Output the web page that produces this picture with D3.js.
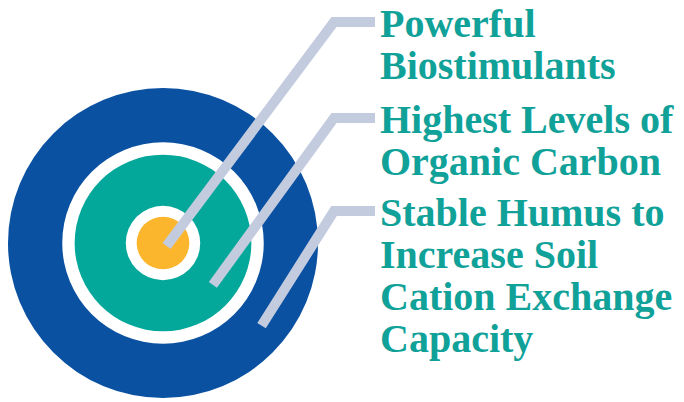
<!DOCTYPE html>
<html>
<head>
<meta charset="utf-8">
<script src="https://cdn.jsdelivr.net/npm/d3@7"></script>
<style>
  html, body { margin: 0; padding: 0; background: #ffffff; overflow: hidden; }
  svg { display: block; }
</style>
</head>
<body>
<script>
//Layer names, from the core outwards.
var layers = ["core", "middle", "outer"];

//Label lines for each layer.
var labelLines = [
  ["Powerful", "Biostimulants"],
  ["Highest Levels of", "Organic Carbon"],
  ["Stable Humus to", "Increase Soil", "Cation Exchange", "Capacity"]
];

//Ring bands as percent of the full radius [inner, outer].
var ringBands = [[0, 17], [24, 57], [65, 100]];

//Where each pointer tip sits, percent of the full radius.
var pointerDepth = [3, 42, 83];

//Ring colours.
var ringColors = ["#fbb62d", "#04a89b", "#0a51a2"];

//Main drawing function.
function mainFunction() {

  var width = 684;
  var height = 402;

  var svg = d3.select("body").append("svg")
    .attr("width", width)
    .attr("height", height);

  //Target centre and size.
  var cx = 163;
  var cy = 243;
  var fullRadius = 155;

  //Radius scale from percent to pixels.
  var rScale = d3.scaleLinear().domain([0, 100]).range([0, fullRadius]);

  //Label layout.
  var labelX = 380;
  var firstBaselines = [37, 133, 226];
  var lineHeight = 42;
  var bendX = 334;
  var leaderEnd = 375;
  var tipAngle = 40 * Math.PI / 180;

  var target = svg.append("g").attr("transform", "translate(" + cx + "," + cy + ")");

  //Drawing the rings from the outside in.
  var arc = d3.arc().startAngle(0).endAngle(2 * Math.PI);
  target.selectAll("path.ring")
    .data(ringBands.map(function(b, i) { return { band: b, color: ringColors[i] }; }).reverse())
    .enter().append("path")
    .attr("class", "ring")
    .attr("d", function(d) {
      return arc({ innerRadius: rScale(d.band[0]), outerRadius: rScale(d.band[1]) });
    })
    .attr("fill", function(d) { return d.color; });

  //Pointer lines from each ring to its label.
  var line = d3.line();
  svg.selectAll("path.pointer")
    .data(layers)
    .enter().append("path")
    .attr("class", "pointer")
    .attr("d", function(d, i) {
      var r = rScale(pointerDepth[i]);
      var tip = [cx + r * Math.cos(tipAngle), cy + r * Math.sin(tipAngle)];
      var ly = firstBaselines[i] - 15;
      return line([tip, [bendX, ly], [leaderEnd, ly]]);
    })
    .attr("fill", "none")
    .attr("stroke", "#c3cbdf")
    .attr("stroke-width", 10)
    .attr("stroke-linejoin", "miter")
    .attr("stroke-linecap", "butt");

  //Label text.
  var labels = svg.selectAll("text.label")
    .data(labelLines)
    .enter().append("text")
    .attr("class", "label")
    .attr("x", labelX)
    .attr("y", function(d, i) { return firstBaselines[i]; })
    .attr("fill", "#10a199")
    .style("font-family", "'Liberation Serif', 'Times New Roman', serif")
    .style("font-weight", "bold")
    .style("font-size", "40px");

  labels.selectAll("tspan")
    .data(function(d) { return d; })
    .enter().append("tspan")
    .attr("x", labelX)
    .attr("dy", function(d, j) { return j === 0 ? 0 : lineHeight; })
    .text(function(d) { return d; });

};//End of Main Function.

mainFunction();
</script>
</body>
</html>
